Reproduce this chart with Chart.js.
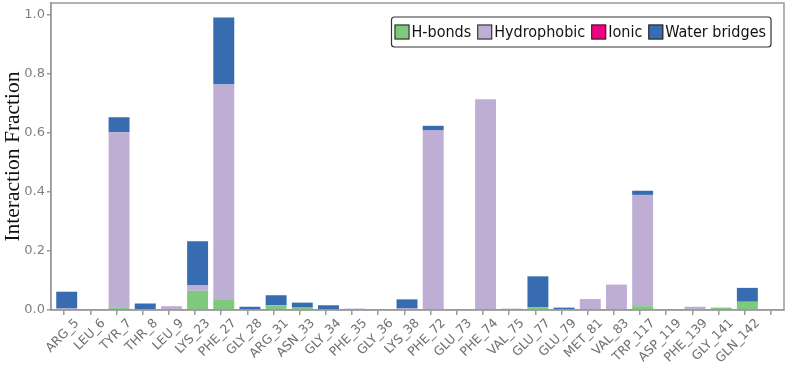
<!DOCTYPE html>
<html>
<head>
<meta charset="utf-8">
<script src="https://cdn.jsdelivr.net/npm/chart.js@4.4.1/dist/chart.umd.min.js"></script>
<style>
  html, body { margin: 0; padding: 0; background: #fff; }
  #wrap { width: 788px; height: 377px; }
</style>
</head>
<body>
<div id="wrap"><canvas id="chart"></canvas></div>
<script>
// residues along the x axis
const residues = ['ARG_5', 'LEU_6', 'TYR_7', 'THR_8', 'LEU_9', 'LYS_23', 'PHE_27', 'GLY_28',
    'ARG_31', 'ASN_33', 'GLY_34', 'PHE_35', 'GLY_36', 'LYS_38', 'PHE_72', 'GLU_73', 'PHE_74',
    'VAL_75', 'GLU_77', 'GLU_79', 'MET_81', 'VAL_83', 'TRP_117', 'ASP_119', 'PHE_139',
    'GLY_141', 'GLN_142'];

// interaction fractions
const hBonds = [0, 0, 0.008, 0, 0, 0.065, 0.034, 0, 0.016, 0.008, 0, 0, 0, 0, 0, 0, 0,
    0, 0.010, 0, 0, 0, 0.013, 0, 0, 0.008, 0.028];
const hydrophobic = [0.005, 0, 0.594, 0, 0.013, 0.018, 0.730, 0, 0, 0, 0, 0, 0, 0.005, 0.608, 0, 0.714,
    0, 0, 0, 0.037, 0.086, 0.377, 0, 0.011, 0, 0];
const ionic = [0, 0, 0, 0, 0, 0, 0, 0, 0, 0, 0, 0, 0, 0, 0, 0, 0,
    0, 0, 0, 0, 0, 0, 0, 0, 0, 0];
const waterBridges = [0.057, 0, 0.051, 0.022, 0, 0.150, 0.227, 0.011, 0.034, 0.017, 0.016, 0.004, 0, 0.031, 0.016, 0, 0,
    0.004, 0.104, 0.008, 0, 0, 0.014, 0, 0, 0, 0.047];

const yTicks = [0, 0.2, 0.4, 0.6, 0.8, 1.0];

const COLORS = {
    hbond: '#7fc97f',
    hydro: '#beaed4',
    ionic: '#f0027f',
    water: '#386cb0',
    axis: '#9a9a9a',
    tick: '#808080'
};

// bars sit just left of their tick (right edge on the tick)
function toPoints(values) {
    return values.map((v, i) => ({ x: i - 0.4, y: v }));
}

function makeSet(label, values, color) {
    return {
        label,
        data: toPoints(values),
        backgroundColor: color,
        borderWidth: 0,
        barPercentage: 0.8,
        categoryPercentage: 1
    };
}

// frame round the plot
const framePlugin = {
    id: 'frame',
    afterDraw(chart) {
        const { ctx, chartArea: a } = chart;
        ctx.save();
        ctx.strokeStyle = COLORS.axis;
        ctx.lineWidth = 1.5;
        ctx.strokeRect(a.left, a.top, a.right - a.left, a.bottom - a.top);
        ctx.restore();
    }
};

// one-row legend in a rounded box, top right inside the plot
const boxLegend = {
    id: 'boxLegend',
    afterDraw(chart) {
        const { ctx, chartArea: a } = chart;
        const font = '16px "DejaVu Sans Condensed", "DejaVu Sans"';
        const sq = 15, textGap = 2, itemGap = 6, padX = 3;
        ctx.save();
        ctx.font = font;
        const items = chart.data.datasets.map(ds => ({
            label: ds.label, color: ds.backgroundColor, w: ctx.measureText(ds.label).width
        }));
        const inner = items.reduce((s, it) => s + sq + textGap + it.w, 0) + itemGap * (items.length - 1);
        const boxW = inner + padX * 2 + 2;
        const boxH = 30;
        const right = a.right - 13;
        const left = right - boxW;
        const top = a.top + 14;

        ctx.fillStyle = 'rgba(255,255,255,0.9)';
        ctx.strokeStyle = '#333';
        ctx.lineWidth = 1.2;
        ctx.beginPath();
        ctx.roundRect(left, top, boxW, boxH, 3);
        ctx.fill();
        ctx.stroke();

        let x = left + padX;
        const cy = top + boxH / 2;
        ctx.textBaseline = 'middle';
        ctx.textAlign = 'left';
        items.forEach(it => {
            ctx.fillStyle = it.color;
            ctx.fillRect(x, cy - sq / 2, sq, sq);
            ctx.strokeStyle = '#222';
            ctx.lineWidth = 1;
            ctx.strokeRect(x + 0.5, cy - sq / 2 + 0.5, sq - 1, sq - 1);
            x += sq + textGap;
            ctx.fillStyle = '#111';
            ctx.fillText(it.label, x, cy + 1);
            x += it.w + itemGap;
        });
        ctx.restore();
    }
};

new Chart(document.getElementById('chart'), {
    type: 'bar',
    data: {
        datasets: [
            makeSet('H-bonds', hBonds, COLORS.hbond),
            makeSet('Hydrophobic', hydrophobic, COLORS.hydro),
            makeSet('Ionic', ionic, COLORS.ionic),
            makeSet('Water bridges', waterBridges, COLORS.water)
        ]
    },
    options: {
        responsive: true,
        maintainAspectRatio: false,
        animation: false,
        layout: { autoPadding: false, padding: { top: 3, right: 4, left: 0, bottom: 0 } },
        plugins: {
            tooltip: { enabled: false },
            legend: { display: false }
        },
        scales: {
            x: {
                type: 'linear',
                stacked: true,
                offset: false,
                min: -1,
                max: 27,
                afterBuildTicks(axis) {
                    axis.ticks = residues.map((_, i) => ({ value: i }));
                },
                afterFit(axis) { axis.height = 67; },
                grid: { display: true, drawOnChartArea: false, drawTicks: true, tickLength: 5, color: COLORS.axis, lineWidth: 1.5 },
                border: { display: true, color: COLORS.axis, width: 1.5 },
                ticks: {
                    autoSkip: false,
                    maxRotation: 45,
                    minRotation: 45,
                    padding: 1,
                    color: '#707070',
                    font: { family: 'DejaVu Sans', size: 12.5 },
                    callback: v => residues[v] || ''
                }
            },
            y: {
                stacked: true,
                min: 0,
                max: 1.04,
                afterBuildTicks(axis) {
                    axis.ticks = yTicks.map(v => ({ value: v }));
                },
                afterFit(axis) {
                    axis.width = 51;
                    axis.paddingTop = 0;
                    axis.paddingBottom = 0;
                },
                grid: { display: true, drawOnChartArea: false, drawTicks: true, tickLength: 4, color: COLORS.axis, lineWidth: 1.5 },
                border: { display: true, color: COLORS.axis, width: 1.5 },
                ticks: {
                    padding: 2,
                    color: COLORS.tick,
                    font: { family: 'DejaVu Sans', size: 13 },
                    callback: v => v.toFixed(1)
                },
                title: {
                    display: true,
                    text: 'Interaction Fraction',
                    color: '#111',
                    padding: 0,
                    font: { family: 'Liberation Serif', size: 21.5 }
                }
            }
        }
    },
    plugins: [framePlugin, boxLegend]
});
</script>
</body>
</html>
